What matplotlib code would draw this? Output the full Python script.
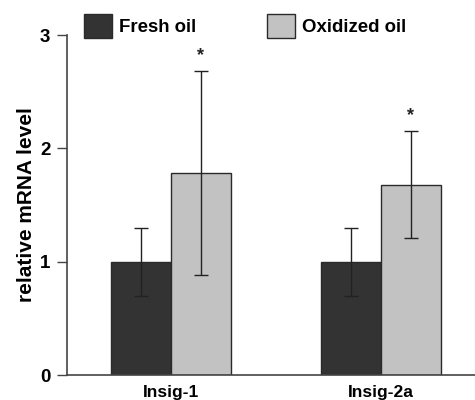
import numpy as np
import matplotlib
matplotlib.use("Agg")
import matplotlib.pyplot as plt
from matplotlib.patches import Patch

# Data
genes = ["Insig-1", "Insig-2a"]
series_names = ["Fresh oil", "Oxidized oil"]
fresh_mean = [1.0, 1.0]
fresh_err = [0.30, 0.30]
oxidized_mean = [1.78, 1.68]
oxidized_err = [0.90, 0.47]
significance = ["*", "*"]

plt.rcParams["font.family"] = ["Liberation Sans", "DejaVu Sans"]
plt.rcParams["font.weight"] = "bold"

dark = "#333333"
light = "#c2c2c2"
edge = "#2a2a2a"

fig = plt.figure(figsize=(4.75, 4.0), dpi=100)
ax = fig.add_axes([0.141, 0.0625, 0.859, 0.85])

x = np.arange(len(genes))
width = 0.286

ax.bar(x - width / 2, fresh_mean, width, color=dark, edgecolor=edge, linewidth=1.0,
       yerr=fresh_err, error_kw=dict(ecolor="#222222", elinewidth=1.0, capsize=5, capthick=1.0))
ax.bar(x + width / 2, oxidized_mean, width, color=light, edgecolor=edge, linewidth=1.0,
       yerr=oxidized_err, error_kw=dict(ecolor="#222222", elinewidth=1.0, capsize=5, capthick=1.0))

# significance stars above oxidized error bars
for xi, m, e, s in zip(x, oxidized_mean, oxidized_err, significance):
    ax.text(xi + width / 2, m + e + 0.06, s, ha="center", va="bottom", fontsize=13,
            fontweight="bold", color="#222222")

ax.set_xlim(-0.495, 1.448)
ax.set_ylim(0, 3)
ax.set_yticks([0, 1, 2, 3])
ax.set_xticks(x)
ax.set_xticklabels(genes, fontsize=12.5, fontweight="bold")
ax.tick_params(axis="y", labelsize=13.5, length=7, width=1.0, color="#444444", pad=5)
ax.tick_params(axis="x", length=0, pad=7)
for lbl in ax.get_yticklabels():
    lbl.set_fontweight("bold")

ax.spines["top"].set_visible(False)
ax.spines["right"].set_visible(False)
ax.spines["left"].set_color("#444444")
ax.spines["bottom"].set_color("#444444")
ax.spines["left"].set_linewidth(1.2)
ax.spines["bottom"].set_linewidth(1.2)

ax.set_ylabel("relative mRNA level", fontsize=15, fontweight="bold", labelpad=3)

handles = [Patch(facecolor=dark, edgecolor=edge, label=series_names[0]),
           Patch(facecolor=light, edgecolor=edge, label=series_names[1])]
fig.legend(handles=handles, loc="upper left", bbox_to_anchor=(84 / 475, 1 - 14 / 400), ncol=2,
           frameon=False, fontsize=13.4, handlelength=1.5, handleheight=1.6,
           handletextpad=0.38, columnspacing=3.8, borderpad=0, borderaxespad=0)

fig.savefig("out.png", dpi=100)
